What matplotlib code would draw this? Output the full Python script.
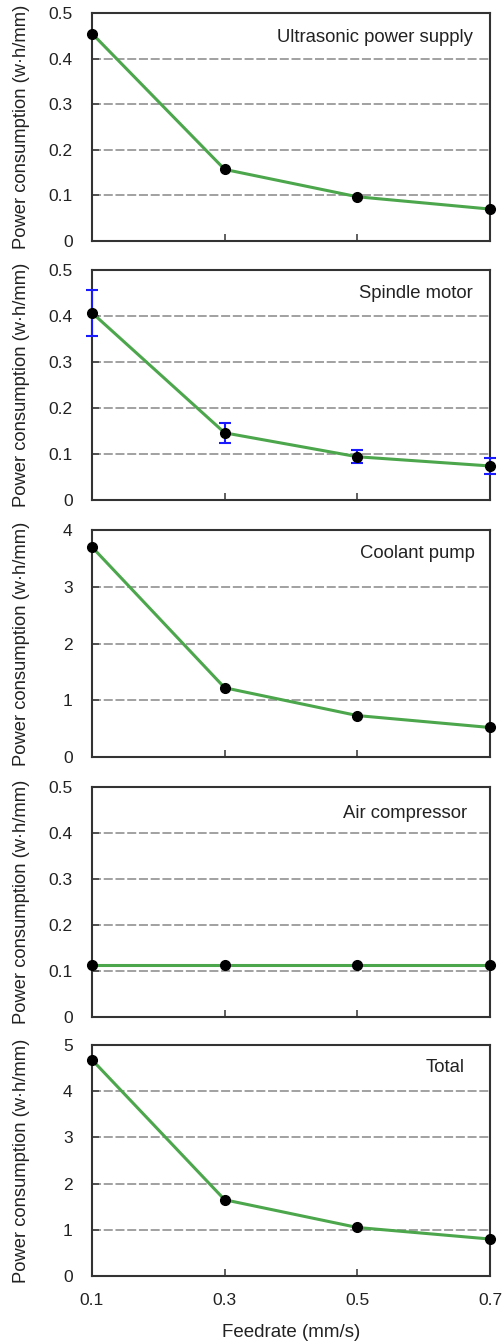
import matplotlib
matplotlib.use('Agg')
import matplotlib.pyplot as plt

plt.rcParams['font.family'] = ['Liberation Sans', 'DejaVu Sans']

feedrate = [0.1, 0.3, 0.5, 0.7]
x_ticks = [0.1, 0.3, 0.5, 0.7]

ultrasonic = [0.455, 0.157, 0.097, 0.070]
spindle = [0.407, 0.146, 0.094, 0.074]
spindle_err = [0.050, 0.022, 0.014, 0.017]
coolant = [3.70, 1.22, 0.73, 0.52]
air = [0.113, 0.113, 0.113, 0.113]
total = [4.68, 1.65, 1.05, 0.80]

panel_names = ['Ultrasonic power supply', 'Spindle motor', 'Coolant pump',
               'Air compressor', 'Total']
panel_data = [ultrasonic, spindle, coolant, air, total]
panel_errs = [None, spindle_err, None, None, None]
y_limits = [0.5, 0.5, 4, 0.5, 5]
y_ticks = [[0, 0.1, 0.2, 0.3, 0.4, 0.5], [0, 0.1, 0.2, 0.3, 0.4, 0.5],
           [0, 1, 2, 3, 4], [0, 0.1, 0.2, 0.3, 0.4, 0.5], [0, 1, 2, 3, 4, 5]]
y_tick_labels = [['0', '0.1', '0.2', '0.3', '0.4', '0.5'],
                 ['0', '0.1', '0.2', '0.3', '0.4', '0.5'],
                 ['0', '1', '2', '3', '4'],
                 ['0', '0.1', '0.2', '0.3', '0.4', '0.5'],
                 ['0', '1', '2', '3', '4', '5']]

W, H = 503, 1343
fig = plt.figure(figsize=(W / 100, H / 100), dpi=100)

# pixel layout of each panel (top, bottom) and label placement
tops = [13, 270, 530, 787, 1045]
bottoms = [241, 500, 757, 1017, 1276]
label_x = [0.957, 0.957, 0.962, 0.942, 0.937]
label_dy = [25, 23, 23, 26, 23]
left, right = 92, 490

for i in range(5):
    ax = fig.add_axes([left / W, 1 - bottoms[i] / H,
                       (right - left) / W, (bottoms[i] - tops[i]) / H])
    ax.plot(feedrate, panel_data[i], color='#4ca64c', linewidth=2.2, zorder=3,
            clip_on=False)
    if panel_errs[i] is not None:
        ax.errorbar(feedrate, panel_data[i], yerr=panel_errs[i], fmt='none',
                    ecolor='#1a1aff', elinewidth=1.5, capsize=4, capthick=1.5,
                    zorder=4, clip_on=False)
    ax.plot(feedrate, panel_data[i], 'o', color='black', markersize=7,
            zorder=5, clip_on=False)

    ax.set_xlim(0.1, 0.7)
    ax.set_ylim(0, y_limits[i])
    ax.set_xticks(x_ticks)
    ax.set_yticks(y_ticks[i])
    ax.set_yticklabels(y_tick_labels[i])
    for t in y_ticks[i][1:-1]:
        ax.axhline(t, color='#9a9a9a', linewidth=1.3, linestyle=(0, (5, 1.5)),
                   zorder=1)
    ax.tick_params(axis='both', direction='in', length=5, width=1.2,
                   color='#444444', labelsize=12.5, labelcolor='#222222')
    ax.tick_params(axis='y', pad=14)
    ax.tick_params(axis='x', pad=12)
    if i < 4:
        ax.tick_params(axis='x', labelbottom=False)
    for s in ax.spines.values():
        s.set_linewidth(1.5)
        s.set_color('#333333')

    ax.text(label_x[i], 1 - label_dy[i] / (bottoms[i] - tops[i]),
            panel_names[i], transform=ax.transAxes, ha='right', va='center',
            fontsize=13.3, color='#222222')
    ax.set_ylabel('Power consumption (w·h/mm)', fontsize=13.2, color='#222222')
    ax.yaxis.set_label_coords(-0.156, 0.5)

    if i == 4:
        ax.set_xlabel('Feedrate (mm/s)', fontsize=13.5, color='#222222',
                      labelpad=12)

fig.savefig('out.png', dpi=100)
